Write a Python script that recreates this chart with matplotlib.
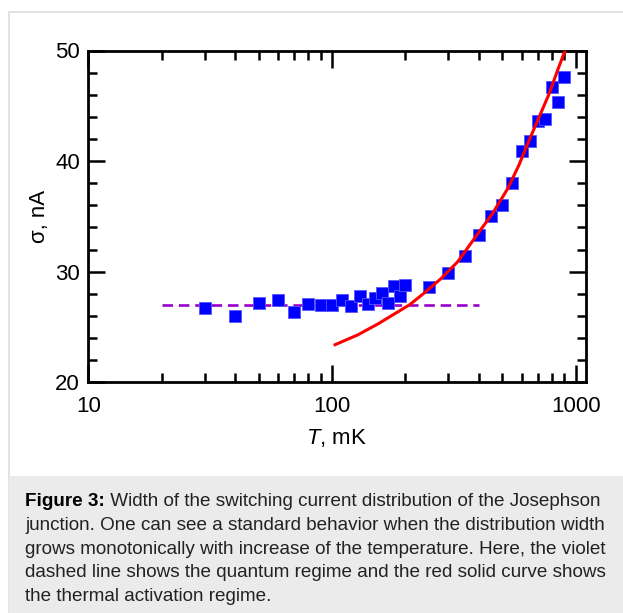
import matplotlib
matplotlib.use('Agg')
import matplotlib.pyplot as plt
from matplotlib.patches import Rectangle
from matplotlib.ticker import FixedLocator, NullFormatter

#================================================================================
#   DATA
#================================================================================
temp_mk = [30, 40, 50, 60, 70, 80, 90, 100, 110, 120, 130, 140, 150, 160, 170,
           180, 190, 200, 250, 300, 350, 400, 450, 500, 550, 600, 650, 700,
           750, 800, 850, 900]
sigma_na = [26.7, 26.0, 27.2, 27.4, 26.4, 27.1, 27.0, 27.0, 27.4, 26.9, 27.8,
            27.1, 27.6, 28.1, 27.2, 28.7, 27.8, 28.8, 28.6, 29.9, 31.4, 33.3,
            35.0, 36.0, 38.0, 40.9, 41.8, 43.6, 43.8, 46.7, 45.3, 47.6]

# thermal activation curve
fit_t = [103, 128, 155, 181, 208, 240, 281, 328, 390, 457, 526, 587, 645,
         709, 779, 843, 898, 905]
fit_sigma = [23.4, 24.3, 25.3, 26.2, 27.0, 28.1, 29.4, 30.9, 33.2, 35.3,
             37.5, 39.7, 41.9, 44.0, 46.1, 48.2, 49.8, 50.0]

# quantum regime line
quantum_t = [20, 400]
quantum_sigma = [27.0, 27.0]

x_ticks = [10, 100, 1000]
y_ticks = [20, 30, 40, 50]

caption_bold = 'Figure 3:'
caption_lines = [
    ' Width of the switching current distribution of the Josephson',
    'junction. One can see a standard behavior when the distribution width',
    'grows monotonically with increase of the temperature. Here, the violet',
    'dashed line shows the quantum regime and the red solid curve shows',
    'the thermal activation regime.',
]

#================================================================================
#   FIGURE
#================================================================================
plt.rcParams['font.family'] = ['Liberation Sans', 'DejaVu Sans']
plt.rcParams['mathtext.fontset'] = 'custom'
plt.rcParams['mathtext.it'] = 'Liberation Sans:italic'
plt.rcParams['mathtext.rm'] = 'Liberation Sans'

W, H = 623, 613
fig = plt.figure(figsize=(W / 100, H / 100), dpi=100)

def px_box(x0, y0, x1, y1):
    # pixel box (top-left origin) -> figure fraction rect
    return (x0 / W, 1 - y1 / H, (x1 - x0) / W, (y1 - y0) / H)

# card border and caption background (behind the axes)
bx = px_box(8.5, 12, 640, 640)
fig.patches.append(Rectangle(bx[:2], bx[2], bx[3], transform=fig.transFigure,
                             facecolor='white', edgecolor='#dddddd', lw=1.2, zorder=-2))
cx = px_box(9, 476, 640, 640)
fig.patches.append(Rectangle(cx[:2], cx[2], cx[3], transform=fig.transFigure,
                             facecolor='#ebebeb', edgecolor='none', zorder=-1))

ax = fig.add_axes(px_box(88.3, 50.5, 585.7, 382.3))
ax.set_xscale('log')
ax.set_xlim(10, 1100)
ax.set_ylim(20, 50)

ax.plot(quantum_t, quantum_sigma, color='#9900cc', lw=1.9, dashes=(4, 2.2), zorder=2)
ax.plot(temp_mk, sigma_na, 's', color='#0000ff', ms=8.5, mew=0.6, mec='#5555ff', zorder=3)
ax.plot(fit_t, fit_sigma, color='#ff0000', lw=2.2, zorder=4, clip_on=True)

ax.xaxis.set_major_locator(FixedLocator(x_ticks))
ax.set_xticklabels([str(t) for t in x_ticks])
ax.xaxis.set_minor_locator(FixedLocator([k * 10 for k in range(2, 10)] + [k * 100 for k in range(2, 10)]))
ax.xaxis.set_minor_formatter(NullFormatter())
ax.yaxis.set_major_locator(FixedLocator(y_ticks))
ax.yaxis.set_minor_locator(FixedLocator(list(range(22, 50, 2))))

ax.tick_params(which='both', direction='in', top=True, right=True, width=1.8, colors='black')
ax.tick_params(which='major', length=12.5, labelsize=16)
ax.tick_params(which='minor', length=6.5)
ax.tick_params(axis='x', which='major', pad=10)
ax.tick_params(axis='y', which='major', pad=6)
for sp in ax.spines.values():
    sp.set_linewidth(2.0)

ax.set_xlabel('$T$, mK', fontsize=16, labelpad=7)
ax.set_ylabel('σ, nA', fontsize=16, labelpad=4)

#================================================================================
#   CAPTION
#================================================================================
cap_size = 13.6
x0 = 25 / W
line_y = [501.5, 525.3, 549.1, 572.9, 596.7]
bold_t = fig.text(x0, 1 - line_y[0] / H, caption_bold, fontsize=cap_size,
                  fontweight='bold', va='center', ha='left')
renderer = fig.canvas.get_renderer()
bb = bold_t.get_window_extent(renderer=renderer)
fig.text(bb.x1 / W, 1 - line_y[0] / H, caption_lines[0], fontsize=cap_size,
         va='center', ha='left', color='#222222')
for i in range(1, len(caption_lines)):
    fig.text(x0, 1 - line_y[i] / H, caption_lines[i], fontsize=cap_size,
             va='center', ha='left', color='#222222')

fig.savefig('out.png', dpi=100)
